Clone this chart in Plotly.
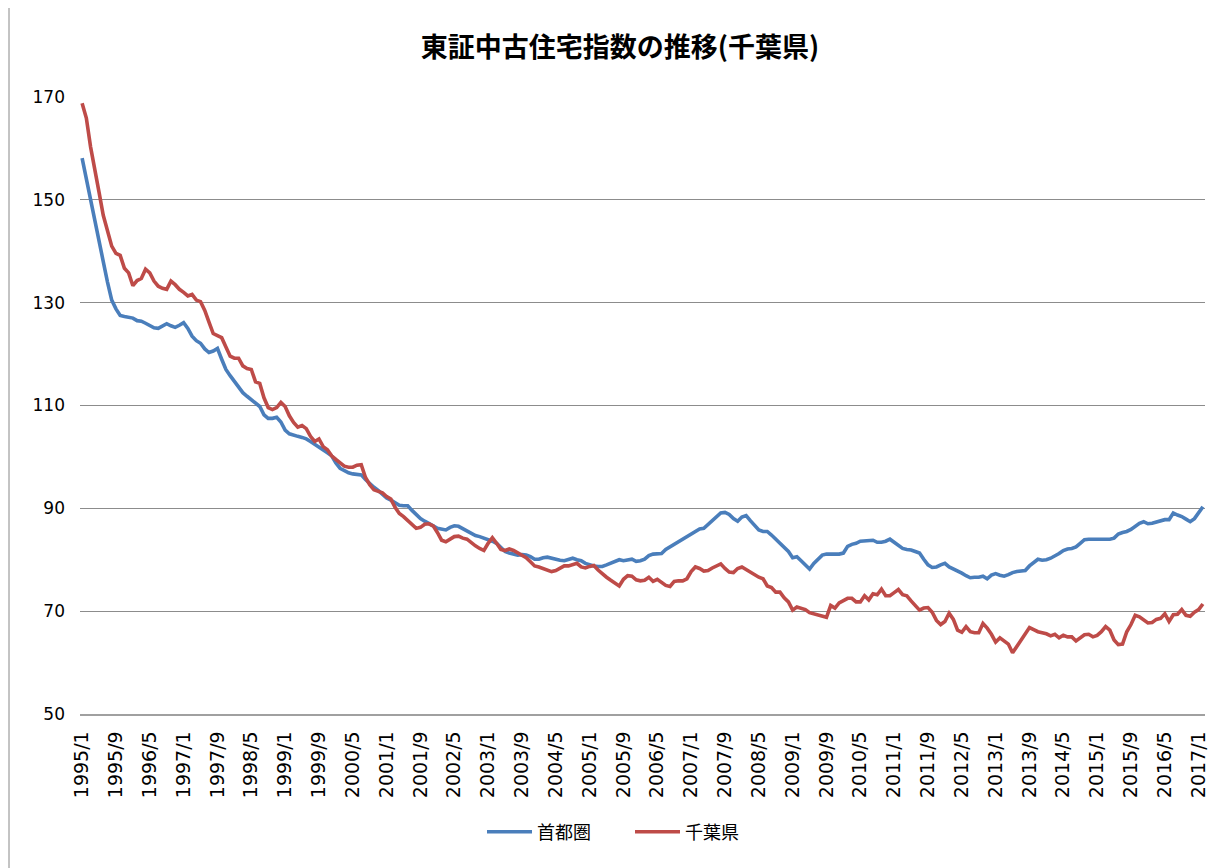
import plotly.graph_objects as go

# Monthly categories 1995/1 .. 2017/2
months = [f"{y}/{m}" for y in range(1995, 2018) for m in range(1, 13)][:266]

# 首都圏 (blue)
shutoken = [
    158.1, 154.0, 149.5, 145.5, 141.5, 138.0, 134.0, 130.5, 128.8, 127.5, 127.3, 127.1,  # 1995
    127.0, 126.5, 126.4, 126.0, 125.5, 125.1, 125.0, 125.5, 125.9, 125.5, 125.2, 125.6,  # 1996
    126.1, 125.0, 123.5, 122.6, 122.1, 121.0, 120.3, 120.6, 121.1, 119.0, 117.0, 115.8,  # 1997
    114.6, 113.5, 112.5, 111.8, 111.2, 110.5, 109.8, 108.2, 107.5, 107.5, 107.7, 106.8,  # 1998
    105.2, 104.5, 104.2, 104.0, 103.8, 103.5, 103.0, 102.5, 102.0, 101.5, 100.8, 100.2,  # 1999
    98.8, 97.8, 97.3, 96.9, 96.7, 96.6, 96.5, 95.6, 94.8, 94.1, 93.5, 92.8,  # 2000
    92.0, 91.6, 91.0, 90.6, 90.5, 90.5, 89.6, 88.8, 88.0, 87.5, 87.1, 86.6,  # 2001
    86.1, 85.9, 85.8, 86.3, 86.6, 86.5, 86.0, 85.6, 85.1, 84.7, 84.5, 84.2,  # 2002
    84.0, 83.6, 83.2, 82.3, 81.6, 81.3, 81.1, 80.9, 81.0, 80.9, 80.6, 80.1,  # 2003
    80.1, 80.4, 80.5, 80.3, 80.0, 79.9, 79.8, 80.0, 80.3, 80.0, 79.8, 79.3,  # 2004
    79.0, 78.8, 78.7, 78.7, 79.0, 79.3, 79.6, 80.0, 79.8, 80.0, 80.1, 79.7,  # 2005
    79.8, 80.1, 80.8, 81.1, 81.1, 81.2, 82.0, 82.5, 82.9, 83.4, 83.8, 84.3,  # 2006
    84.8, 85.5, 86.0, 86.1, 86.9, 87.7, 88.3, 89.1, 89.2, 88.8, 88.0, 87.5,  # 2007
    88.3, 88.6, 87.6, 86.8, 85.8, 85.5, 85.5, 84.8, 84.0, 83.2, 82.4, 81.6,  # 2008
    80.4, 80.6, 79.8, 79.0, 78.2, 79.3, 80.2, 80.9, 81.1, 81.1, 81.0, 81.1,  # 2009
    81.3, 82.6, 83.0, 83.2, 83.6, 83.7, 83.7, 83.8, 83.4, 83.4, 83.6, 84.0,  # 2010
    83.4, 82.8, 82.2, 82.0, 81.9, 81.6, 81.3, 80.1, 79.0, 78.5, 78.6, 79.0,  # 2011
    79.3, 78.6, 78.2, 77.9, 77.4, 76.9, 76.5, 76.6, 76.6, 76.8, 76.3, 77.0,  # 2012
    77.3, 77.0, 76.8, 77.1, 77.5, 77.7, 77.8, 77.9, 78.8, 79.5, 80.1, 79.9,  # 2013
    80.0, 80.3, 80.7, 81.2, 81.8, 82.1, 82.2, 82.5, 83.2, 83.9, 84.0, 84.0,  # 2014
    83.9, 83.9, 84.0, 84.0, 84.2, 85.0, 85.3, 85.5, 85.9, 86.5, 87.1, 87.4,  # 2015
    87.0, 87.1, 87.3, 87.6, 87.8, 87.8, 89.1, 88.7, 88.4, 87.9, 87.4, 88.0,  # 2016
    89.3, 90.3,  # 2017
]

# 千葉県 (red)
chiba = [
    168.8, 165.9, 160.3, 155.5, 151.5, 147.0, 144.0, 141.0, 139.6, 139.2, 136.7, 135.8,  # 1995
    133.3, 134.3, 134.7, 136.5, 135.8, 134.2, 133.2, 132.8, 132.6, 134.2, 133.5, 132.6,  # 1996
    132.0, 131.3, 131.6, 130.5, 130.2, 128.5, 126.2, 124.0, 123.6, 123.2, 121.4, 119.6,  # 1997
    119.2, 119.2, 117.7, 117.2, 117.0, 114.6, 114.3, 111.5, 109.6, 109.2, 109.6, 110.6,  # 1998
    109.8, 108.0, 106.7, 105.8, 106.1, 105.5, 104.0, 103.0, 103.5, 102.0, 101.4, 100.2,  # 1999
    99.5, 98.8, 98.2, 98.0, 98.0, 98.4, 98.5, 96.0, 94.6, 93.6, 93.3, 93.0,  # 2000
    92.3, 91.8, 90.2, 89.0, 88.4, 87.6, 86.8, 86.1, 86.3, 86.9, 87.0, 86.6,  # 2001
    85.3, 83.8, 83.5, 84.1, 84.5, 84.6, 84.2, 84.0, 83.3, 82.7, 82.2, 81.8,  # 2002
    83.2, 84.3, 83.2, 82.0, 81.8, 82.1, 81.8, 81.3, 81.0, 80.4, 79.6, 78.8,  # 2003
    78.6, 78.3, 78.0, 77.7, 77.9, 78.4, 78.8, 78.8, 79.0, 79.3, 78.6, 78.4,  # 2004
    78.7, 78.9, 78.0, 77.2, 76.6, 76.0, 75.4, 74.9, 76.2, 76.9, 76.8, 76.1,  # 2005
    75.9, 76.0, 76.6, 75.8, 76.2, 75.7, 75.0, 74.8, 75.8, 75.9, 75.9, 76.3,  # 2006
    77.7, 78.6, 78.3, 77.8, 77.9, 78.4, 78.9, 79.2, 78.3, 77.6, 77.5, 78.3,  # 2007
    78.6, 78.1, 77.6, 77.0, 76.6, 76.3, 74.9, 74.6, 73.7, 73.7, 72.6, 71.8,  # 2008
    70.2, 70.8, 70.6, 70.3, 69.7, 69.5, 69.3, 69.0, 68.8, 71.1, 70.6, 71.6,  # 2009
    72.1, 72.5, 72.5, 71.8, 71.8, 73.0, 72.2, 73.4, 73.2, 74.3, 73.0, 73.0,  # 2010
    73.6, 74.2, 73.2, 73.0, 72.0, 71.0, 70.2, 70.6, 70.7, 69.8, 68.2, 67.4,  # 2011
    68.0, 69.6, 68.4, 66.3, 65.9, 67.0, 66.0, 65.8, 65.8, 67.6, 66.7, 65.5,  # 2012
    64.0, 64.8, 64.3, 63.6, 61.9, 63.2, 64.5, 65.8, 66.8, 66.4, 66.0, 65.8,  # 2013
    65.6, 65.2, 65.5, 64.8, 65.3, 65.0, 65.0, 64.2, 64.8, 65.4, 65.5, 65.0,  # 2014
    65.3, 66.0, 67.0, 66.3, 64.4, 63.5, 63.6, 66.0, 67.4, 69.2, 68.9, 68.3,  # 2015
    67.7, 67.8, 68.4, 68.6, 69.5, 68.0, 69.3, 69.4, 70.3, 69.2, 69.0, 69.8,  # 2016
    70.3, 71.4,  # 2017
]

tick_labels = months[::8]
y_ticks = [50, 70, 90, 110, 130, 150, 170]

cjk_font = "Noto Sans CJK JP, Noto Sans, sans-serif"
num_font = "DejaVu Sans, Liberation Sans, sans-serif"

fig = go.Figure()
fig.add_trace(go.Scatter(x=months, y=shutoken, mode="lines", name="首都圏",
                         line=dict(color="#4A7EBB", width=3.6)))
fig.add_trace(go.Scatter(x=months, y=chiba, mode="lines", name="千葉県",
                         line=dict(color="#BE4B48", width=3.6)))

W, H = 1213, 860
L, T, R, B = 72, 89, 16, 154
PW = W - L - R
PH = H - T - B

fig.update_layout(
    width=W, height=H,
    paper_bgcolor="white", plot_bgcolor="white",
    margin=dict(l=L, r=R, t=T, b=B),
    title=dict(text="<b>東証中古住宅指数の推移(千葉県)</b>", x=612 / W, xanchor="center",
               y=1 - 40 / H, yanchor="middle",
               font=dict(family=cjk_font, size=27, color="black")),
    font=dict(family=cjk_font, color="black"),
    showlegend=True,
    legend=dict(orientation="h", x=(482 - 80) / PW, xanchor="left",
                y=-(832 - 714) / PH, yanchor="middle",
                itemwidth=45, entrywidth=88, entrywidthmode="pixels",
                font=dict(size=18, family=cjk_font)),
)
fig.update_xaxes(type="category", tickmode="array", tickvals=tick_labels, ticktext=tick_labels,
                 tickangle=-90, showgrid=False, showline=True, linecolor="#A0A0A0", linewidth=1.5,
                 ticks="", tickfont=dict(size=19, family=num_font), ticklabelstandoff=8,
                 range=[-0.5, 265.5])
fig.update_yaxes(range=[50, 170], tickvals=y_ticks, showgrid=True, gridcolor="#8C8C8C",
                 gridwidth=1, zeroline=False, showline=False, ticks="",
                 tickfont=dict(size=17, family=num_font), ticklabelstandoff=14)

# left frame line of the chart area
fig.add_shape(type="line", xref="paper", yref="paper",
              x0=(1 - L) / PW, x1=(1 - L) / PW, y0=-B / PH, y1=(PH + T) / PH,
              line=dict(color="#888888", width=1))

fig.write_html("out.html")
